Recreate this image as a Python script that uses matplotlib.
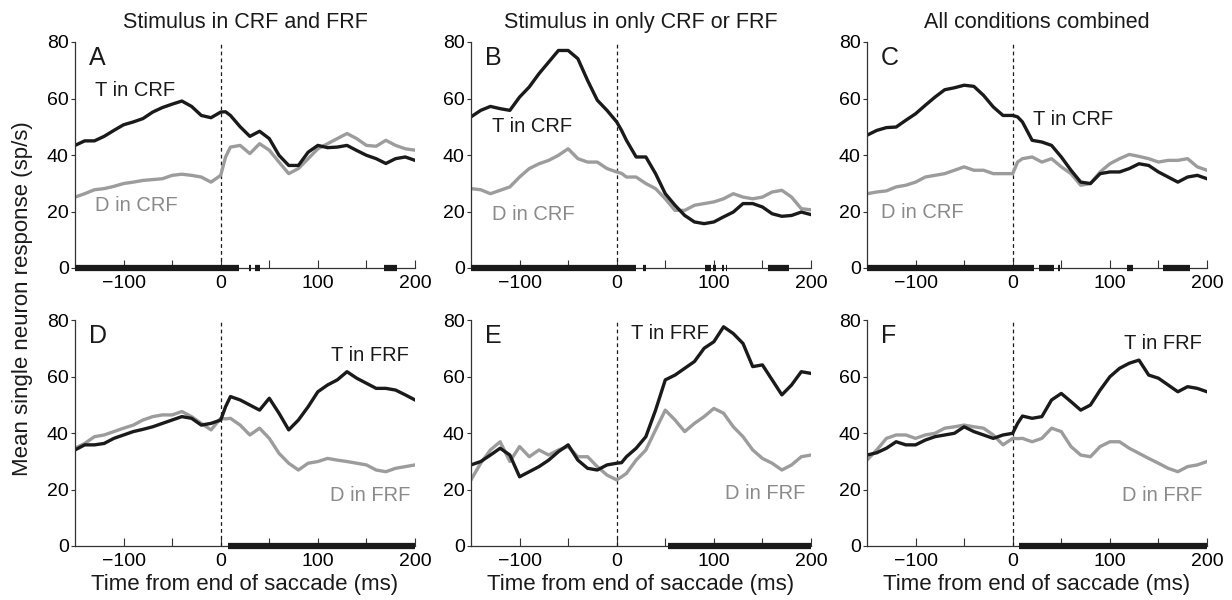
import matplotlib
matplotlib.use("Agg")
import matplotlib.pyplot as plt

plt.rcParams['font.family'] = ['Liberation Sans', 'DejaVu Sans']

# time axis (ms from end of saccade)
t = [-150, -140, -130, -120, -110, -100, -90, -80, -70, -60, -50, -40, -30, -20, -10,
     0, 5, 10, 20, 30, 40, 50, 60, 70, 80, 90, 100, 110, 120, 130, 140, 150, 160, 170, 180, 190, 200]

# A: stimulus in CRF and FRF
a_t = [43.4, 45, 45, 46.6, 48.7, 50.7, 51.7, 52.9, 55.2, 56.8, 58, 59.1, 57.2, 54, 53.2,
       55.2, 55.3, 54, 50, 46.6, 48.4, 45.8, 39.9, 36.3, 36.3, 41, 43.4, 42.6, 42.8, 43.4, 41.6, 39.9, 38.7, 37, 38.7, 39.3, 38.1]
a_d = [25.1, 26.3, 27.7, 28.1, 28.9, 29.9, 30.4, 31, 31.3, 31.6, 32.8, 33.2, 32.8, 32.2, 30.4,
       32.8, 39.3, 42.8, 43.4, 40.5, 44, 41.7, 37.5, 33.4, 35.2, 38.7, 42.2, 44, 45.8, 47.6, 45.8, 43.4, 43.1, 45.2, 43.4, 42.2, 41.7]
# B: stimulus in only CRF
b_t = [53.5, 55.8, 57.2, 56.4, 55.8, 60.5, 64.1, 68.8, 72.9, 77, 77, 74.1, 66.4, 59.4, 55.8,
       51.7, 48.7, 45.2, 39.3, 39.3, 33.4, 26.3, 22.2, 18.6, 16.3, 15.7, 16.3, 18.1, 19.8, 22.8, 22.8, 21.6, 19.2, 18.3, 18.6, 19.8, 18.9]
b_d = [28.1, 27.7, 26.3, 27.5, 28.7, 32.2, 35.2, 36.9, 38.1, 39.9, 42.2, 38.7, 37.5, 37.5, 35.2,
       34, 33.5, 32.2, 32.2, 29.9, 28.1, 24.5, 20.4, 20.4, 22.2, 22.8, 23.4, 24.5, 26.3, 25.1, 24.5, 25.1, 26.9, 27.5, 25.1, 21, 20.6]
# C: all conditions, T/D in CRF
c_t = [47, 48.7, 49.7, 49.9, 52.3, 54.6, 57.6, 60.5, 63.1, 63.8, 64.7, 64.3, 61.1, 57, 54,
       54, 53.5, 51.7, 45.2, 44.6, 43.4, 39.3, 34.6, 30.4, 29.9, 33.4, 34, 34, 35.2, 36.9, 36.3, 34, 32.2, 30.4, 32.2, 32.8, 31.6]
c_d = [26.3, 26.9, 27.3, 28.7, 29.3, 30.4, 32.2, 32.8, 33.4, 34.6, 35.8, 34.6, 34.6, 33.4, 33.4,
       33.4, 37.5, 38.7, 39.3, 37.5, 38.7, 35.8, 33.4, 29.3, 29.9, 34, 36.9, 38.7, 40.2, 39.5, 38.7, 37.5, 38.1, 38.1, 38.7, 35.8, 34.6]
# D: stimulus in CRF and FRF, T/D in FRF
d_t = [34, 35.8, 35.8, 36.3, 38.1, 39.3, 40.5, 41.3, 42.2, 43.4, 44.6, 45.8, 45.2, 42.8, 43.4,
       44.6, 49.3, 52.9, 51.7, 49.9, 48.1, 52.3, 47, 41.1, 44.6, 49.3, 54.6, 57, 58.8, 61.7, 59.4, 57.6, 55.8, 55.8, 55.2, 53.5, 51.7]
d_d = [34.6, 36.3, 38.7, 39.3, 40.5, 41.7, 42.8, 44.6, 45.8, 46.4, 46.4, 47.6, 45.8, 43.4, 41.1,
       45.2, 45, 45.2, 42.8, 39.3, 41.7, 38.1, 32.8, 29.3, 26.9, 29.3, 29.9, 31, 30.4, 29.9, 29.3, 28.7, 26.9, 26.3, 27.5, 28.1, 28.7]
# E: stimulus in only FRF
e_t = [28.7, 29.9, 32.2, 34.6, 32.2, 24.5, 26.3, 28.1, 30.4, 33.4, 35.8, 30.4, 27.5, 26.9, 28.7,
       29.3, 29.5, 31.6, 34.6, 38.7, 48.1, 58.8, 60.5, 62.9, 65.3, 70, 72.3, 77.6, 75.2, 71.7, 63.5, 64.1, 58.8, 53.5, 57, 61.7, 61.1]
e_d = [23.4, 29.3, 34, 36.9, 29.9, 35.2, 31.6, 34, 32.2, 34, 35.2, 31.6, 31.6, 28.1, 25.1,
       23.4, 24.5, 25.7, 30.4, 34, 41.1, 48.1, 44.6, 40.5, 43.4, 45.8, 48.7, 47, 42.2, 38.7, 34, 31, 29.3, 26.9, 28.7, 31.6, 32.2]
# F: all conditions, T/D in FRF
f_t = [32.2, 33, 34.6, 36.9, 35.8, 35.8, 37.5, 38.7, 39.3, 39.9, 42.2, 40.5, 39.3, 38.1, 39.3,
       39.9, 43.4, 46, 45.2, 45.8, 51.7, 54, 51.1, 48.1, 49.9, 55.2, 59.9, 62.9, 64.7, 65.8, 60.5, 59.4, 57, 54.6, 56.4, 55.8, 54.6]
f_d = [30.4, 34, 38.1, 39.3, 39.3, 38.1, 39.3, 39.9, 41.7, 42.2, 42.8, 42.2, 41.7, 39.3, 35.8,
       38.1, 38, 38.1, 36.9, 38.1, 41.7, 40.5, 35.2, 32.2, 31.6, 35.2, 36.9, 36.9, 34.6, 32.8, 31, 29.3, 27.5, 26.3, 28.1, 28.7, 29.9]

# periods of significant difference (start, end) in ms
a_sig = [(-150, 19), (29, 31), (35, 40), (168, 181)]
b_sig = [(-150, 20), (27, 30), (91, 97), (99, 102), (108, 110), (112, 114), (156, 177)]
c_sig = [(-150, 22), (27, 42), (47, 49), (118, 124), (155, 182)]
d_sig = [(8, 200)]
e_sig = [(53, 200)]
f_sig = [(6, 200)]

titles = ["Stimulus in CRF and FRF", "Stimulus in only CRF or FRF", "All conditions combined"]

BLACK = "#1a1a1a"
GRAY = "#9c9c9c"
TXTGRAY = "#8a8a8a"

panels = [
    ("A", a_t, a_d, a_sig, ("T in CRF", -129, 63, "left"), ("D in CRF", -129, 22, "left")),
    ("B", b_t, b_d, b_sig, ("T in CRF", -128, 50, "left"), ("D in CRF", -128, 19, "left")),
    ("C", c_t, c_d, c_sig, ("T in CRF", 21, 52.6, "left"), ("D in CRF", -136, 19.8, "left")),
    ("D", d_t, d_d, d_sig, ("T in FRF", 194, 67.6, "right"), ("D in FRF", 195, 17.8, "right")),
    ("E", e_t, e_d, e_sig, ("T in FRF", 15, 75.3, "left"), ("D in FRF", 194, 18.6, "right")),
    ("F", f_t, f_d, f_sig, ("T in FRF", 195, 71.7, "right"), ("D in FRF", 195, 17.8, "right")),
]

fig = plt.figure(figsize=(12.32, 6), dpi=100)
lefts = [75 / 1232, 471 / 1232, 867 / 1232]
bottoms = [1 - 268 / 600, 1 - 546 / 600]
w = 340 / 1232
h = 226 / 600

for i, (letter, tt, dd, sig, tlab, dlab) in enumerate(panels):
    row, col = divmod(i, 3)
    ax = fig.add_axes([lefts[col], bottoms[row], w, h])
    ax.plot([0, 0], [0, 80], color=BLACK, lw=0.9, ls=(0, (3, 2.5)))
    ax.plot(t, dd, color=GRAY, lw=2.4, solid_joinstyle="round")
    ax.plot(t, tt, color=BLACK, lw=2.4, solid_joinstyle="round")
    for s0, s1 in sig:
        ax.plot([s0, s1], [0, 0], color=BLACK, lw=4.5, solid_capstyle="butt", clip_on=False, zorder=5)
    ax.set_xlim(-150, 200)
    ax.set_ylim(0, 80)
    ax.spines["top"].set_visible(False)
    ax.spines["right"].set_visible(False)
    for sp in ("left", "bottom"):
        ax.spines[sp].set_color("#333333")
        ax.spines[sp].set_linewidth(0.9)
    ax.set_xticks([-100, -50, 0, 50, 100, 150, 200])
    ax.set_xticklabels(["\u2212100", "", "0", "", "100", "", "200"])
    ax.set_yticks([0, 20, 40, 60, 80])
    ax.tick_params(axis="x", direction="in", length=6, width=0.8, labelsize=14, pad=5, color="#333333")
    ax.tick_params(axis="y", direction="out", length=3, width=0.8, labelsize=14, pad=1.5, color="#333333")
    ax.text(-136, 74.5, letter, fontsize=18, va="center", ha="left", color=BLACK)
    ax.text(tlab[1], tlab[2], tlab[0], fontsize=14.5, va="center", ha=tlab[3], color=BLACK)
    ax.text(dlab[1], dlab[2], dlab[0], fontsize=14.5, va="center", ha=dlab[3], color=TXTGRAY)
    if row == 0:
        ax.set_title(titles[col], fontsize=15.5, pad=10, color=BLACK)
    else:
        ax.set_xlabel("Time from end of saccade (ms)", fontsize=16, labelpad=3, color=BLACK)

fig.text(0.018, 0.503, "Mean single neuron response (sp/s)", rotation=90,
         va="center", ha="center", fontsize=16, color=BLACK)

fig.savefig("out.png", dpi=100)
